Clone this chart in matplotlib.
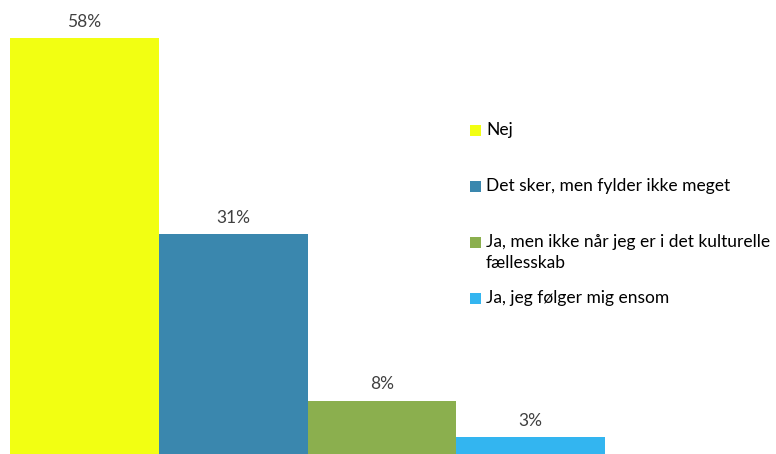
import matplotlib
matplotlib.use("Agg")
import matplotlib.pyplot as plt
from matplotlib.patches import Rectangle

categories = [
    "Nej",
    "Det sker, men fylder ikke meget",
    "Ja, men ikke når jeg er i det kulturelle\nfællesskab",
    "Ja, jeg følger mig ensom",
]
values = [58, 31, 8, 3]
colors = ["#F2FF12", "#3A87AE", "#8BAF4E", "#33B5F0"]

plt.rcParams["font.family"] = ["Lato", "DejaVu Sans"]

W, H = 776, 454
fig = plt.figure(figsize=(W / 100, H / 100), dpi=100)
# the original is cropped a little below the baseline (~y=458.8 px),
# 7.254 px per percent point
px_per = 7.254
base = 458.8
ax = fig.add_axes([10 / W, (H - base) / H, 595 / W, 60 * px_per / H])

x = range(len(values))
bars = ax.bar(x, values, width=1.0, color=colors, linewidth=0)
ax.set_xlim(-0.5, len(values) - 0.5)
ax.set_ylim(0, 60)
ax.axis("off")

for b, v in zip(bars, values):
    ax.annotate(f"{v}%", (b.get_x() + b.get_width() / 2, v),
                xytext=(0, 6), textcoords="offset points",
                ha="center", va="bottom", fontsize=12.5, color="#404040")

# legend drawn by hand so the square sits on the first line of wrapped text
leg_y = [129, 185, 241, 297]
for lab, col, y in zip(categories, colors, leg_y):
    fig.patches.append(Rectangle((470 / W, 1 - (y + 7) / H), 11 / W, 11 / H,
                                 transform=fig.transFigure, color=col, lw=0))
    fig.text(486 / W, 1 - (y - 7) / H, lab, fontsize=12.5, color="#000000",
             va="top", ha="left", linespacing=1.4)

fig.savefig("out.png", dpi=100)
